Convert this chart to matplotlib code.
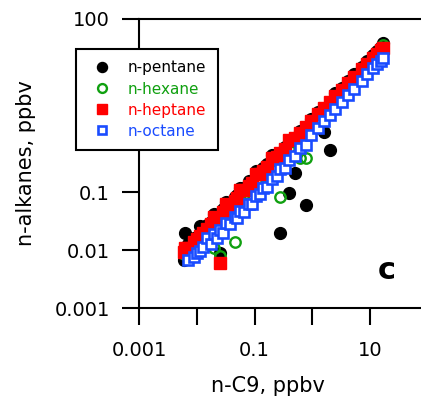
import numpy as np
import matplotlib
matplotlib.use("Agg")
import matplotlib.pyplot as plt
from matplotlib.ticker import FixedLocator, NullLocator

plt.rcParams['font.family'] = ['DejaVu Sans']

# n-C9 mixing ratio of each sample (ppbv)
nonane = [0.0060, 0.0063, 0.0071, 0.0089, 0.010, 0.0112, 0.0126, 0.0151, 0.0178, 0.020,
          0.0224, 0.025, 0.028, 0.032, 0.038, 0.045, 0.050, 0.056, 0.066, 0.079,
          0.089, 0.105, 0.126, 0.141, 0.166, 0.20, 0.24, 0.28, 0.33, 0.40,
          0.50, 0.60, 0.76, 0.95, 1.26, 1.58, 2.0, 2.5, 3.2, 4.2,
          5.2, 7.1, 8.9, 11.2, 13.2, 15.1, 16.6]

pentane = [0.0068, 0.020, 0.013, 0.016, 0.015, 0.026, 0.024, 0.027, 0.031, 0.042,
           0.040, 0.009, 0.052, 0.068, 0.066, 0.082, 0.090, 0.12, 0.12, 0.16,
           0.16, 0.23, 0.23, 0.26, 0.31, 0.45, 0.45, 0.020, 0.62, 0.098,
           0.22, 1.15, 0.061, 1.85, 2.5, 1.1, 0.54, 5.2, 6.5, 8.6,
           11, 15, 19, 24, 28, 33, 38]

hexane = [0.0085, 0.009, 0.0095, 0.012, 0.013, 0.015, 0.017, 0.020, 0.024, 0.011,
          0.030, 0.008, 0.038, 0.044, 0.052, 0.014, 0.068, 0.077, 0.092, 0.11,
          0.125, 0.15, 0.18, 0.20, 0.24, 0.29, 0.35, 0.083, 0.48, 0.58,
          0.74, 0.39, 0.39, 1.45, 1.9, 2.4, 3.1, 3.9, 5.0, 6.6,
          8.4, 11.5, 14.5, 18.5, 22, 25, 36]

heptane = [0.0092, 0.011, 0.011, 0.0138, 0.0155, 0.0174, 0.0196, 0.0237, 0.028, 0.038,
           0.0355, 0.006, 0.045, 0.062, 0.061, 0.072, 0.081, 0.11, 0.108, 0.131,
           0.147, 0.21, 0.21, 0.237, 0.28, 0.40, 0.41, 0.48, 0.57, 0.80,
           0.87, 1.05, 1.34, 1.69, 2.25, 2.86, 3.6, 4.6, 5.8, 7.7,
           9.8, 13.4, 16.9, 21.4, 25.2, 29.2, 32]

octane = [np.nan, np.nan, 0.0068, 0.0075, 0.0088, 0.0098, 0.0115, 0.0165, 0.013, 0.019,
          0.0165, 0.022, 0.020, 0.029, 0.028, 0.038, 0.036, 0.047, 0.046, 0.063,
          0.062, 0.085, 0.095, 0.12, 0.125, 0.17, 0.19, 0.25, 0.26, 0.37,
          0.42, 0.59, 0.66, 0.98, 1.3, 1.7, 2.2, 2.8, 3.6, 4.9,
          6.2, 8.6, 11, 14, 16.5, 19, 21]

names = ['n-pentane', 'n-hexane', 'n-heptane', 'n-octane']
colors = ['black', '#10a010', '#ff0000', '#1a4cff']

x_ticks = [0.001, 0.01, 0.1, 1, 10]
x_labels = ['0.001', '', '0.1', '', '10']
y_ticks = [0.001, 0.01, 0.1, 1, 10, 100]
y_labels = ['0.001', '0.01', '0.1', '1', '10', '100']

fig = plt.figure(figsize=(4.21, 4.01), dpi=100)
ax = fig.add_axes([139/421, 1 - 308/401, 1 - 139/421, (308 - 19)/401])

ax.plot(nonane, pentane, 'o', ls='none', ms=8.5, color=colors[0], mec=colors[0], label=names[0])
ax.plot(nonane, hexane, 'o', ls='none', ms=7.5, mfc='none', mec=colors[1], mew=1.7, label=names[1])
ax.plot(nonane, heptane, 's', ls='none', ms=8.7, color=colors[2], mec=colors[2], label=names[2])
ax.plot(nonane, octane, 's', ls='none', ms=7.2, mfc='white', mec=colors[3], mew=1.9, label=names[3])

ax.set_xscale('log')
ax.set_yscale('log')
ax.set_xlim(0.001, 10**(-3 + (421 - 139)/57.8))
ax.set_ylim(0.001, 100)

ax.xaxis.set_major_locator(FixedLocator(x_ticks))
ax.set_xticklabels(x_labels)
ax.yaxis.set_major_locator(FixedLocator(y_ticks))
ax.set_yticklabels(y_labels)
ax.xaxis.set_minor_locator(NullLocator())
ax.yaxis.set_minor_locator(NullLocator())
ax.tick_params(direction='out', length=12, width=1.5, labelsize=14, pad=9)
ax.tick_params(axis='x', pad=12)

for side in ['left', 'bottom', 'top']:
    ax.spines[side].set_linewidth(1.5)
ax.spines['right'].set_visible(False)

ax.set_xlabel('n-C9, ppbv', fontsize=15)
ax.xaxis.set_label_coords(0.456, -0.235)
ax.set_ylabel('n-alkanes, ppbv', fontsize=15)
ax.yaxis.set_label_coords(-0.365, 0.5)

ax.text(0.879, 0.131, 'c', transform=ax.transAxes, fontsize=22, fontweight='bold',
        ha='center', va='center')

handles, labels = ax.get_legend_handles_labels()
leg = fig.legend(handles, labels, loc='upper left', bbox_to_anchor=(76/421, 1 - 49/401),
                 borderaxespad=0, fontsize=11, frameon=True, fancybox=False,
                 edgecolor='black', framealpha=1, markerscale=0.85,
                 handlelength=1.9, handletextpad=0.75, borderpad=0.75, labelspacing=0.4)
leg.get_frame().set_linewidth(1.5)
for text, c in zip(leg.get_texts(), colors):
    text.set_color(c)

fig.savefig('out.png', dpi=100)
